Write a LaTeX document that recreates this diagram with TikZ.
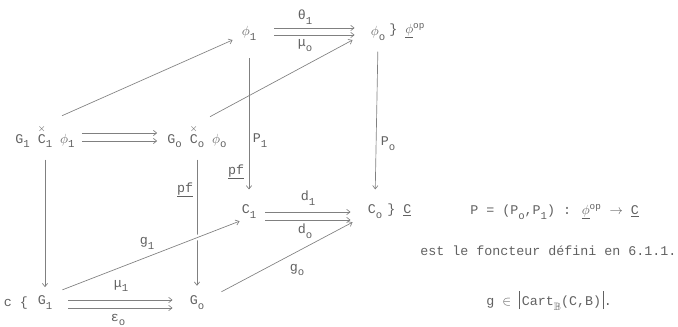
\documentclass[tikz,border=0pt]{standalone}
\usepackage{fontspec}
\setmainfont{Liberation Mono}
\usepackage{amssymb}
\usetikzlibrary{arrows.meta}
\newcommand{\lo}[1]{\raisebox{-0.7ex}{\footnotesize #1}}
\newcommand{\ovx}[1]{\makebox[0pt][l]{\makebox[0.6em]{\raisebox{1.6ex}{\scriptsize$\times$}}}#1}
\newcommand{\phig}{$\phi$}
\newcommand{\vbar}{\rule[-0.5ex]{0.4pt}{2.5ex}}
\begin{document}
\begin{tikzpicture}[
  x=0.75pt,
  y=-0.75pt,
  font=\normalsize,
  every node/.style={text=black!62, inner sep=1.5pt},
  map/.style={draw=black!50, line width=0.5pt, -{Straight Barb[length=2.5pt,width=4pt]}},
  gap/.style={preaction={draw=white, line width=4pt, -}}
]
\useasboundingbox (0,0) rectangle (678,327);

% back face
\node (phione) at (249,33) {\phig\lo{1}};
\node (phizero) at (378,33) {\phig\lo{o}};
\node[anchor=west] (phiop) at (387,31) {\}~\underline{\phig}\textsuperscript{op}};
\node (cone) at (249,212) {C\lo{1}};
\node (czero) at (375,212) {C\lo{o}};
\node[anchor=west] (cop) at (385,210) {\}~\underline{C}};

% front face
\node (gphione) at (45,137) {G\lo{1} \ovx{C}\lo{1} \phig\lo{1}};
\node (gphizero) at (197,137) {G\lo{o} \ovx{C}\lo{o} \phig\lo{o}};
\node (gone) at (45,303) {G\lo{1}};
\node (cbr) at (16,303) {c \{};
\node (gzero) at (197,303) {G\lo{o}};

% labels
\node (thetaone) at (305,17) {θ\lo{1}};
\node (muzero) at (305,46) {μ\lo{o}};
\node (pone) at (260,141) {P\lo{1}};
\node (pzero) at (388,144) {P\lo{o}};
\node (pfback) at (236,172) {\underline{pf}};
\node (pffront) at (185,190) {\underline{pf}};
\node (done) at (308,198) {d\lo{1}};
\node (dzero) at (305,231) {d\lo{o}};
\node (gonelab) at (147,243) {g\lo{1}};
\node (gzerolab) at (297,270) {g\lo{o}};
\node (muone) at (121,286) {μ\lo{1}};
\node (epszero) at (118,320) {ε\lo{o}};

% text on the right
\node[anchor=west] (functor) at (468,212) {P = (P\lo{o},P\lo{1}) : \underline{\phig}\textsuperscript{op} $\rightarrow$ \underline{C}};
\node[anchor=west] (defined) at (418,251) {est le foncteur défini en 6.1.1.};
\node[anchor=west] (cart) at (484,301) {g $\in$ \vbar\,Cart\lo{$\mathbb{B}$}(C,B)\,\vbar.};

% parallel pairs
\foreach \dy in {-5,2}
  \draw[map] ([shift={(16,\dy)}]phione.east) -- ([shift={(-14,\dy)}]phizero.west);
\foreach \dy in {0,8}
  \draw[map] ([shift={(7,\dy)}]cone.east) -- ([shift={(-15,\dy)}]czero.west);
\foreach \dy in {-4,4}
  \draw[map] ([shift={(5,\dy)}]gphione.east) -- ([shift={(-8,\dy)}]gphizero.west);
\foreach \dy in {-3,5}
  \draw[map] ([shift={(14,\dy)}]gone.east) -- ([shift={(-15,\dy)}]gzero.west);

% verticals
\draw[map, shorten <=12pt, shorten >=10pt] (phione.south) -- (cone.north);
\draw[map, shorten <=7pt, shorten >=10pt] (phizero.south) -- (czero.north);
\draw[map, shorten <=7pt, shorten >=5pt] (gphione.south) -- (gone.north);
\draw[map, shorten <=7pt, shorten >=6pt] (gphizero.south) -- (gzero.north);

% diagonals
\draw[map] ([shift={(17,-8)}]gphione.north) -- ([shift={(-7,7)}]phione.west);
\draw[map] ([shift={(13,-7)}]gphizero.north) -- ([shift={(-16,7)}]phizero.west);
\draw[map, gap] ([shift={(8,-4)}]gone.north east) -- (cone.south west);
\draw[map] ([shift={(15,-2)}]gzero.north east) -- ([shift={(-13,1)}]czero.south west);
\end{tikzpicture}
\end{document}
